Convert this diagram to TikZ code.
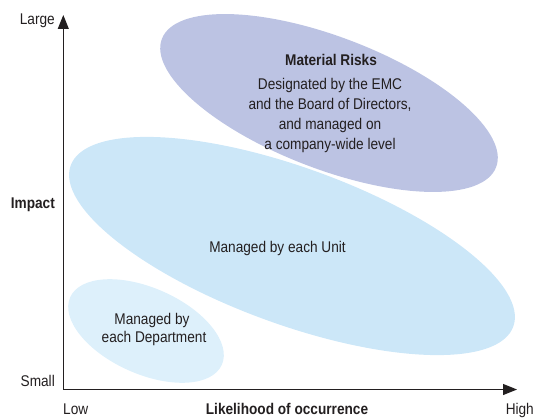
\documentclass[tikz,border=0pt]{standalone}
\usepackage{fontspec}
\setmainfont{Liberation Sans}[FakeStretch=0.88]
\usetikzlibrary{arrows.meta}
\definecolor{riskfill}{RGB}{188,195,227}
\definecolor{unitfill}{RGB}{204,231,248}
\definecolor{deptfill}{RGB}{221,240,251}
\definecolor{inkdark}{RGB}{35,31,32}
\begin{document}
\begin{tikzpicture}[x=1pt,y=1pt,
  lbl/.style={inner sep=0pt, text=inkdark, font=\fontsize{15.5}{20}\selectfont},
  bold lbl/.style={lbl, font=\fontsize{15.5}{20}\selectfont\bfseries},
  axis/.style={draw=inkdark, line width=1.1pt, -{Triangle[length=14pt,width=11pt]}}]
\useasboundingbox (0,0) rectangle (534,418);

% risk regions
\fill[riskfill, rotate around={-21:(329,315)}] (329,315) ellipse [x radius=179pt, y radius=66pt];
\fill[unitfill, rotate around={-20:(292,172)}] (292,172) ellipse [x radius=235.5pt, y radius=78.3pt];
\fill[deptfill, rotate around={-24:(146,87)}] (146,87) ellipse [x radius=83pt, y radius=43pt];

% axes
\coordinate (O) at (63.3,28.5);
\coordinate (xend) at (517,28.5);
\coordinate (yend) at (63.3,403);
\draw[axis] (O) -- (xend);
\draw[axis] (O) -- (yend);

% axis labels
\node[lbl, anchor=base east] (large) at (55,393) {Large};
\node[lbl, anchor=base east] (small) at (55,31.3) {Small};
\node[bold lbl, anchor=base east] (impact) at (55,210) {Impact};
\node[lbl, anchor=base west] (low) at (63,4) {Low};
\node[bold lbl, anchor=base] (likelihood) at (287,4) {Likelihood of occurrence};
\node[lbl, anchor=base east] (high) at (534,4) {High};

% region texts
\node[bold lbl, anchor=base] (risktitle) at (331,352.3) {Material Risks};
\node[lbl, anchor=base] (risk1) at (330,328) {Designated by the EMC};
\node[lbl, anchor=base] (risk2) at (330,308) {and the Board of Directors,};
\node[lbl, anchor=base] (risk3) at (330,288) {and managed on};
\node[lbl, anchor=base] (risk4) at (330,268.7) {a company-wide level};
\node[lbl, anchor=base] (unit) at (277.5,165.7) {Managed by each Unit};
\node[lbl, anchor=base] (dept1) at (152,94) {Managed by};
\node[lbl, anchor=base] (dept2) at (154,75.3) {each Department};
\end{tikzpicture}
\end{document}
